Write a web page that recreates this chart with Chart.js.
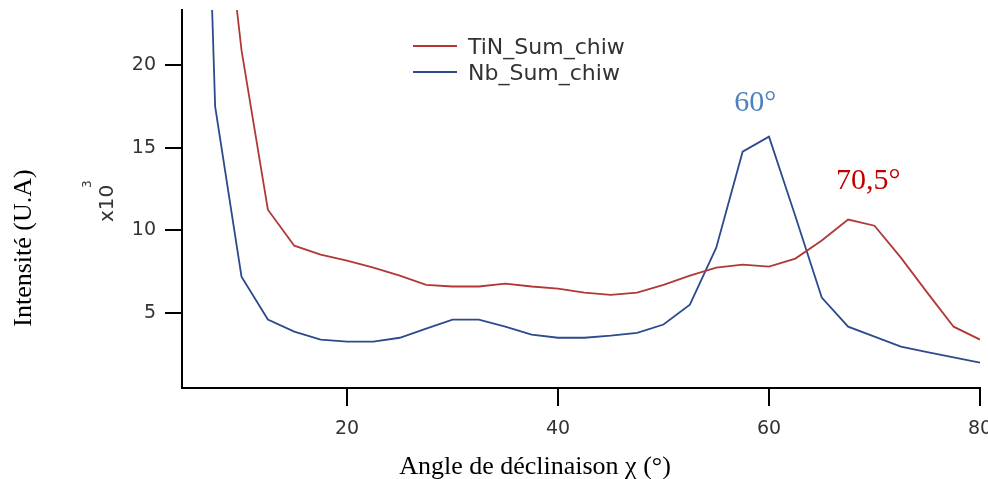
<!DOCTYPE html>
<html>
<head>
<meta charset="utf-8">
<script src="https://cdn.jsdelivr.net/npm/chart.js@4.4.1/dist/chart.umd.min.js"></script>
<style>
  html, body { margin: 0; padding: 0; background: #fff; overflow: hidden; }
  canvas { display: block; }
</style>
</head>
<body>
<canvas id="chiChart" width="988" height="479"></canvas>
<script>
// declination angle chi (deg)
const chi = [5, 7.5, 10, 12.5, 15, 17.5, 20, 22.5, 25, 27.5, 30, 32.5, 35, 37.5, 40, 42.5,
  45, 47.5, 50, 52.5, 55, 57.5, 60, 62.5, 65, 67.5, 70, 72.5, 75, 77.5, 80];

// intensities, x10^3
const tinSum = [50, 35, 20.9, 11.25, 9.07, 8.53, 8.17, 7.74, 7.26, 6.7, 6.6, 6.6, 6.78, 6.6, 6.47, 6.23,
  6.1, 6.23, 6.7, 7.26, 7.74, 7.92, 7.8, 8.29, 9.38, 10.65, 10.28, 8.35, 6.23, 4.17, 3.39];
const nbSum = [69, 17.5, 7.2, 4.6, 3.87, 3.39, 3.27, 3.27, 3.5, 4.05, 4.6, 4.6, 4.17, 3.69, 3.5, 3.5,
  3.63, 3.8, 4.3, 5.5, 8.95, 14.76, 15.67, 10.85, 5.93, 4.17, 3.57, 2.96, 2.63, 2.31, 2.0];

const seriesNames = ['TiN_Sum_chiw', 'Nb_Sum_chiw'];
const xTicks = [20, 40, 60, 80];
const yTicks = [5, 10, 15, 20];

// peak annotations: text, chi, intensity of baseline
const peakText = ['60°', '70,5°'];
const peakChi = [58.7, 69.4];
const peakVal = [17.2, 12.5];
const peakColor = ['#4f81bd', '#c00000'];

const toPoints = ys => chi.map((c, i) => ({ x: c, y: ys[i] }));

const textPlugin = {
  id: 'textPlugin',
  afterDraw(chart) {
    const ctx = chart.ctx;
    const xs = chart.scales.x, ys = chart.scales.y;
    ctx.save();

    // legend
    chart.data.datasets.forEach((ds, i) => {
      const y = 46 + i * 26;
      ctx.strokeStyle = ds.borderColor;
      ctx.lineWidth = 2;
      ctx.beginPath();
      ctx.moveTo(413, y);
      ctx.lineTo(457, y);
      ctx.stroke();
      ctx.fillStyle = '#333';
      ctx.font = '22px "DejaVu Sans"';
      ctx.textAlign = 'left';
      ctx.textBaseline = 'alphabetic';
      ctx.fillText(ds.label, 468, y + 8);
    });

    // peak labels
    ctx.font = '30px "Liberation Serif"';
    ctx.textAlign = 'center';
    peakText.forEach((t, i) => {
      ctx.fillStyle = peakColor[i];
      ctx.fillText(t, xs.getPixelForValue(peakChi[i]), ys.getPixelForValue(peakVal[i]));
    });

    // axis titles
    ctx.fillStyle = '#000';
    ctx.font = '26px "Liberation Serif"';
    ctx.fillText('Angle de déclinaison χ (°)', 535, 474);
    ctx.save();
    ctx.translate(31, 248);
    ctx.rotate(-Math.PI / 2);
    ctx.fillText('Intensité (U.A)', 0, 0);
    ctx.restore();

    // x10^3 multiplier
    ctx.save();
    ctx.translate(113, 202);
    ctx.rotate(-Math.PI / 2);
    ctx.fillStyle = '#333';
    ctx.font = '20px "DejaVu Sans"';
    ctx.textAlign = 'left';
    ctx.fillText('x10', -20, 0);
    ctx.font = '12px "DejaVu Sans"';
    ctx.fillText('3', 14, -22);
    ctx.restore();

    ctx.restore();
  }
};

const tickFont = { family: '"DejaVu Sans"', size: 19 };

new Chart(document.getElementById('chiChart'), {
  type: 'line',
  data: {
    datasets: [
      {
        label: seriesNames[0],
        data: toPoints(tinSum),
        borderColor: '#b23838',
        borderWidth: 1.8,
        pointRadius: 0,
        tension: 0
      },
      {
        label: seriesNames[1],
        data: toPoints(nbSum),
        borderColor: '#2c4a8c',
        borderWidth: 1.8,
        pointRadius: 0,
        tension: 0
      }
    ]
  },
  options: {
    responsive: false,
    animation: false,
    layout: { padding: { top: 10, right: 8, left: 0, bottom: 0 } },
    plugins: {
      legend: { display: false },
      tooltip: { enabled: false }
    },
    scales: {
      x: {
        type: 'linear',
        min: 4.36,
        max: 80,
        afterBuildTicks: s => { s.ticks = xTicks.map(v => ({ value: v })); },
        afterFit: s => { s.height = 91; s.paddingLeft = 0; s.paddingRight = 0; },
        grid: { drawOnChartArea: false, drawTicks: true, tickLength: 18, color: '#000', lineWidth: 2 },
        border: { display: true, color: '#000', width: 2 },
        ticks: { font: tickFont, color: '#333', padding: 12, maxRotation: 0 }
      },
      y: {
        min: 0.46,
        max: 23.33,
        afterBuildTicks: s => { s.ticks = yTicks.map(v => ({ value: v })); },
        afterFit: s => { s.width = 182; s.paddingTop = 0; s.paddingBottom = 0; },
        grid: { drawOnChartArea: false, drawTicks: true, tickLength: 17, color: '#000', lineWidth: 2 },
        border: { display: true, color: '#000', width: 2 },
        ticks: { font: tickFont, color: '#333', padding: 9 }
      }
    }
  },
  plugins: [textPlugin]
});
</script>
</body>
</html>
